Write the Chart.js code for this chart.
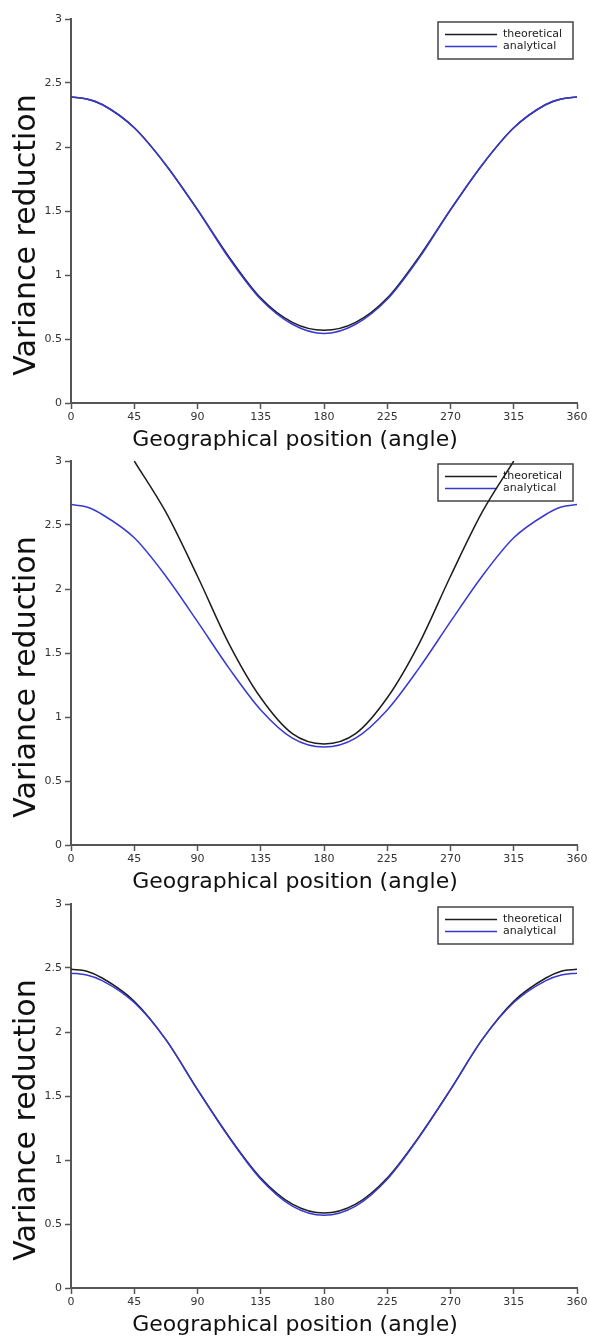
<!DOCTYPE html>
<html>
<head>
<meta charset="utf-8">
<title>Variance reduction vs geographical position</title>
<script src="https://cdn.jsdelivr.net/npm/chart.js@4.4.1/dist/chart.umd.min.js"></script>
<style>
  html, body { margin: 0; padding: 0; background: #fff; }
  #wrap { position: relative; width: 590px; height: 1340px; overflow: hidden; background: #fff; }
  #wrap canvas { position: absolute; left: 0; }
</style>
</head>
<body>
<div id="wrap">
  <canvas id="panel1" width="590" height="462" style="top:0px"></canvas>
  <canvas id="panel2" width="590" height="462" style="top:442px"></canvas>
  <canvas id="panel3" width="590" height="455" style="top:885px"></canvas>
</div>
<script>
// Geographical position in degrees
const angles = [0, 11.25, 22.5, 45, 67.5, 90, 112.5, 135, 157.5, 180, 202.5, 225, 247.5, 270, 292.5, 315, 337.5, 348.75, 360];

// Axis tick labels
const xTicks = [0, 45, 90, 135, 180, 225, 270, 315, 360];
const yTicks = [0, 0.5, 1, 1.5, 2, 2.5, 3];

const seriesNames = ['theoretical', 'analytical'];
const xTitle = 'Geographical position (angle)';
const yTitle = 'Variance reduction';

// Panel 1
const p1Theoretical = [2.39, 2.375, 2.33, 2.15, 1.86, 1.51, 1.14, 0.82, 0.63, 0.568, 0.63, 0.82, 1.14, 1.51, 1.86, 2.15, 2.33, 2.375, 2.39];
const p1Analytical  = [2.39, 2.375, 2.33, 2.15, 1.86, 1.51, 1.13, 0.81, 0.615, 0.542, 0.615, 0.81, 1.13, 1.51, 1.86, 2.15, 2.33, 2.375, 2.39];

// Panel 2 (theoretical leaves the top of the axis outside 45..315)
const p2Theoretical = [null, null, null, 3.0, 2.6, 2.1, 1.57, 1.15, 0.87, 0.79, 0.87, 1.15, 1.57, 2.1, 2.6, 3.0, null, null, null];
const p2Analytical  = [2.66, 2.64, 2.58, 2.40, 2.10, 1.745, 1.38, 1.055, 0.835, 0.765, 0.835, 1.055, 1.38, 1.745, 2.10, 2.40, 2.58, 2.64, 2.66];

// Panel 3
const p3Theoretical = [2.49, 2.475, 2.42, 2.24, 1.94, 1.55, 1.18, 0.86, 0.655, 0.585, 0.655, 0.86, 1.18, 1.55, 1.94, 2.24, 2.42, 2.475, 2.49];
const p3Analytical  = [2.46, 2.445, 2.40, 2.23, 1.94, 1.55, 1.175, 0.85, 0.64, 0.568, 0.64, 0.85, 1.175, 1.55, 1.94, 2.23, 2.40, 2.445, 2.46];

const COLORS = { theoretical: '#1c1c1c', analytical: '#3838d2' };
const AXIS_COLOR = '#555';
const FONT = '"DejaVu Sans", "Liberation Sans", sans-serif';

// Plot frame inside each panel
const PLOT_TOP = 19;
const PLOT_BOTTOM = 403;
const PLOT_LEFT = 71;

const toPoints = (vals) => angles.map((a, i) => ({ x: a, y: vals[i] }));

// Boxed legend drawn inside the plot, underneath the curves
const boxedLegend = {
  id: 'boxedLegend',
  beforeDatasetsDraw(chart) {
    const { ctx, chartArea: a } = chart;
    const bx = a.right - 139, by = a.top + 3, bw = 135, bh = 37;
    ctx.save();
    ctx.fillStyle = '#fff';
    ctx.fillRect(bx, by, bw, bh);
    ctx.strokeStyle = '#444';
    ctx.lineWidth = 1.5;
    ctx.strokeRect(bx, by, bw, bh);
    ctx.font = '11px ' + FONT;
    ctx.textBaseline = 'middle';
    ctx.textAlign = 'left';
    chart.data.datasets.forEach((ds, i) => {
      const y = by + 12.5 + i * 12;
      ctx.strokeStyle = ds.borderColor;
      ctx.lineWidth = 1.3;
      ctx.beginPath();
      ctx.moveTo(bx + 7, y);
      ctx.lineTo(bx + 59, y);
      ctx.stroke();
      ctx.fillStyle = '#222';
      ctx.fillText(ds.label, bx + 65, y);
    });
    ctx.restore();
  }
};

// Axis titles: x centred across the figure width, y rotated at the left edge
const axisTitles = {
  id: 'axisTitles',
  afterDraw(chart) {
    const { ctx, chartArea: a } = chart;
    ctx.save();
    ctx.fillStyle = '#111';
    ctx.textAlign = 'center';
    ctx.textBaseline = 'middle';
    ctx.font = '22px ' + FONT;
    ctx.fillText(xTitle, chart.width / 2, a.bottom + 37);
    ctx.translate(27, a.top + 216);
    ctx.rotate(-Math.PI / 2);
    ctx.font = '30px ' + FONT;
    ctx.fillText(yTitle, 0, 0);
    ctx.restore();
  }
};

function makePanel(id, theoretical, analytical) {
  const canvas = document.getElementById(id);
  const xBand = canvas.height - PLOT_BOTTOM;
  const tickFont = { family: FONT, size: 11 };
  const line = (label, vals, color, order) => ({
    label,
    data: toPoints(vals),
    borderColor: color,
    borderWidth: 1.5,
    pointRadius: 0,
    fill: false,
    cubicInterpolationMode: 'monotone',
    spanGaps: false,
    order
  });
  new Chart(canvas, {
    type: 'line',
    data: {
      datasets: [
        line(seriesNames[0], theoretical, COLORS.theoretical, 1),
        line(seriesNames[1], analytical, COLORS.analytical, 0)
      ]
    },
    options: {
      responsive: false,
      animation: false,
      devicePixelRatio: 1,
      layout: { padding: { top: PLOT_TOP, right: 13, bottom: 0, left: 0 } },
      plugins: { legend: { display: false }, tooltip: { enabled: false } },
      scales: {
        x: {
          type: 'linear',
          min: 0,
          max: 360,
          afterBuildTicks: (s) => { s.ticks = xTicks.map(v => ({ value: v })); },
          afterFit: (s) => { s.height = xBand; },
          ticks: { font: tickFont, color: '#333', padding: 2, maxRotation: 0, autoSkip: false },
          grid: { drawOnChartArea: false, drawTicks: true, tickLength: 6, tickColor: AXIS_COLOR, tickWidth: 1.5 },
          border: { display: true, color: AXIS_COLOR, width: 2 }
        },
        y: {
          type: 'linear',
          min: 0,
          max: 3,
          afterBuildTicks: (s) => { s.ticks = yTicks.map(v => ({ value: v })); },
          afterFit: (s) => { s.width = PLOT_LEFT; },
          ticks: { font: tickFont, color: '#333', padding: 3, callback: (v) => String(v) },
          grid: { drawOnChartArea: false, drawTicks: true, tickLength: 6, tickColor: AXIS_COLOR, tickWidth: 1.5 },
          border: { display: true, color: AXIS_COLOR, width: 2 }
        }
      }
    },
    plugins: [boxedLegend, axisTitles]
  });
}

makePanel('panel1', p1Theoretical, p1Analytical);
makePanel('panel2', p2Theoretical, p2Analytical);
makePanel('panel3', p3Theoretical, p3Analytical);
</script>
</body>
</html>
